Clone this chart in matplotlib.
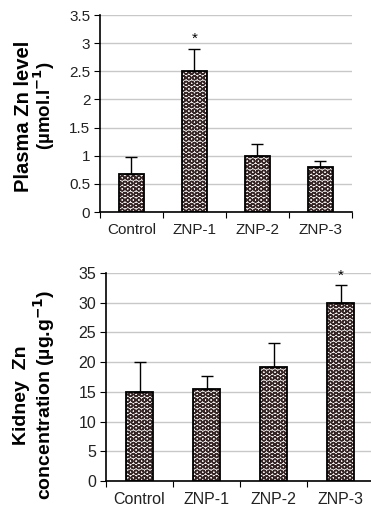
import matplotlib
matplotlib.use("Agg")
import matplotlib.pyplot as plt
import numpy as np

plt.rcParams['font.family'] = ['Liberation Sans', 'DejaVu Sans']
plt.rcParams['hatch.linewidth'] = 1.0

categories = ["Control", "ZNP-1", "ZNP-2", "ZNP-3"]
plasma_vals = [0.67, 2.5, 1.0, 0.8]
plasma_err = [0.30, 0.40, 0.20, 0.10]
kidney_vals = [15.0, 15.5, 19.2, 30.0]
kidney_err = [5.0, 2.1, 4.1, 3.0]
plasma_yticks = [0, 0.5, 1, 1.5, 2, 2.5, 3, 3.5]
plasma_yticklabels = ["0", "0.5", "1", "1.5", "2", "2.5", "3", "3.5"]
kidney_yticks = [0, 5, 10, 15, 20, 25, 30, 35]
star_plasma = [1]
star_kidney = [3]

W, H = 371, 511
fig = plt.figure(figsize=(W/100, H/100), dpi=100)

def px_axes(l, t, r, b):
    return fig.add_axes([l/W, 1 - b/H, (r-l)/W, (b-t)/H])

def draw(ax, vals, errs, yticks, ylim, yticklabels, stars, starpad, fs):
    x = np.arange(len(vals))
    ax.bar(x, vals, width=0.4, color='#f4f0f0', edgecolor='#352525', hatch='OOO', linewidth=0, zorder=2)
    ax.bar(x, vals, width=0.4, fill=False, edgecolor='black', linewidth=1.3, zorder=3)
    ax.errorbar(x, vals, yerr=[np.zeros(len(vals)), errs], fmt='none', ecolor='black',
                elinewidth=1, capsize=4, capthick=1, zorder=4)
    for i in stars:
        ax.text(x[i], vals[i] + errs[i] + starpad, '*', ha='center', va='bottom', fontsize=11)
    ax.set_xlim(-0.5, len(vals) - 0.5)
    ax.set_ylim(*ylim)
    ax.set_yticks(yticks)
    ax.set_yticklabels(yticklabels, fontsize=fs, color='#222222')
    ax.set_xticks(np.arange(len(vals)+1) - 0.5)
    ax.set_xticklabels([])
    ax.set_xticks(x, minor=True)
    ax.set_xticklabels(categories, minor=True, fontsize=fs, color='#222222')
    ax.tick_params(axis='x', which='minor', length=0, pad=8)
    ax.tick_params(axis='x', which='major', length=4, direction='out')
    ax.tick_params(axis='y', length=4, direction='out', pad=3)
    ax.yaxis.grid(True, color='#c8c8c8', linewidth=1)
    ax.set_axisbelow(True)
    for s in ['top', 'right']:
        ax.spines[s].set_visible(False)
    for s in ['left', 'bottom']:
        ax.spines[s].set_linewidth(1.2)

ax1 = px_axes(100, 15, 352, 212)
draw(ax1, plasma_vals, plasma_err, plasma_yticks, (0, 3.5), plasma_yticklabels, star_plasma, 0.05, 11)
fig.text(24/W, 1 - 116/H, "Plasma Zn level", rotation=90, ha='center', va='center',
         fontsize=14.5, fontweight='bold')
fig.text(44/W, 1 - 106/H, "(µmol.l$^{\\mathbf{-1}}$)", rotation=90, ha='center', va='center',
         fontsize=13.5, fontweight='bold')

ax2 = px_axes(106, 273, 374, 481)
draw(ax2, kidney_vals, kidney_err, kidney_yticks, (0, 35), [str(v) for v in kidney_yticks], star_kidney, 0.3, 11.5)
fig.text(22/W, 1 - 395/H, "Kidney  Zn", rotation=90, ha='center', va='center',
         fontsize=14, fontweight='bold')
fig.text(44/W, 1 - 395/H, "concentration (µg.g$^{\\mathbf{-1}}$)", rotation=90, ha='center', va='center',
         fontsize=14, fontweight='bold')

fig.savefig("out.png", dpi=100)
